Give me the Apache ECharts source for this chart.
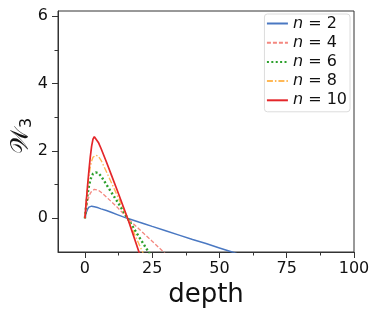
<!DOCTYPE html>
<html>
<head>
<meta charset="utf-8">
<script src="https://cdn.jsdelivr.net/npm/echarts@6/dist/echarts.min.js"></script>
<style>
  html, body { margin: 0; padding: 0; background: #fff; }
  #chart { width: 379px; height: 316px; }
</style>
</head>
<body>
<div id="chart"></div>
<script>
// ---- data ----
const depth = [0, 0.5, 1, 1.5, 2, 2.5, 3, 3.5, 4, 5, 6, 8, 10, 12, 14, 16, 18, 20, 22, 25, 30, 35, 40, 45, 50, 55, 60];
const n2  = [0, 0.17, 0.27, 0.33, 0.36, 0.36, 0.35, 0.34, 0.33, 0.31, 0.28, 0.23, 0.17, 0.11, 0.05, -0.005, -0.056, -0.11, -0.16, -0.24, -0.37, -0.50, -0.63, -0.75, -0.88, -1.01, -1.14];
const n4  = [0, 0.30, 0.50, 0.64, 0.74, 0.80, 0.84, 0.86, 0.86, 0.83, 0.77, 0.63, 0.48, 0.33, 0.16, -0.01, -0.16, -0.31, -0.46, -0.68, -1.06, -1.43, -1.80, -2.17, -2.55, -2.92, -3.30];
const n6  = [0, 0.40, 0.72, 0.96, 1.13, 1.25, 1.32, 1.35, 1.36, 1.34, 1.25, 1.00, 0.75, 0.50, 0.24, -0.02, -0.28, -0.54, -0.79, -1.17, -1.80, -2.43, -3.06, -3.70, -4.30, -4.90, -5.50];
const n8  = [0, 0.50, 0.93, 1.27, 1.52, 1.70, 1.81, 1.86, 1.87, 1.84, 1.72, 1.38, 1.03, 0.68, 0.33, -0.03, -0.39, -0.75, -1.10, -1.64, -2.54, -3.44, -4.30, -5.20, -6.10, -7.00, -7.90];
const n10 = [0, 0.50, 0.98, 1.42, 1.82, 2.14, 2.35, 2.42, 2.40, 2.25, 2.07, 1.67, 1.25, 0.83, 0.40, -0.03, -0.50, -0.98, -1.45, -2.16, -3.35, -4.50, -5.70, -6.90, -8.10, -9.30, -10.50];
const seriesNames = ['n = 2', 'n = 4', 'n = 6', 'n = 8', 'n = 10'];
const xMajorTicks = [0, 25, 50, 75, 100];
const xMinorTicks = [12.5, 37.5, 62.5, 87.5];
const yMajorTicks = [0, 2, 4, 6];
const yMinorTicks = [1, 3, 5];

// ---- styles ----
const FONT = 'DejaVu Sans';
const styles = [
  { color: '#4a78c2', width: 1.5, type: 'solid' },
  { color: '#f4877f', width: 1.3, type: [4, 2] },
  { color: '#2ca02c', width: 2.4, type: [2, 2.4] },
  { color: '#ffb856', width: 1.4, type: [6, 2, 1.5, 2] },
  { color: '#e4262a', width: 1.7, type: 'solid' }
];
const allY = [n2, n4, n6, n8, n10];

const chart = echarts.init(document.getElementById('chart'), null, { renderer: 'canvas' });

const series = allY.map((ys, i) => ({
  name: seriesNames[i],
  type: 'line',
  xAxisIndex: 0,
  yAxisIndex: 0,
  data: depth.map((d, k) => [d, ys[k]]),
  symbol: 'none',
  showSymbol: false,
  smooth: false,
  clip: true,
  lineStyle: { color: styles[i].color, width: styles[i].width, type: styles[i].type },
  itemStyle: { color: styles[i].color },
  animation: false,
  z: 2 + i
}));

const grid = {
  left: 58, top: 11, right: 25, bottom: 64,
  show: true, borderColor: '#333', borderWidth: 1,
  containLabel: false, outerBoundsMode: 'none'
};

chart.setOption({
  animation: false,
  backgroundColor: '#fff',
  grid: grid,
  legend: {
    show: true,
    right: 29,
    top: 14,
    orient: 'vertical',
    itemWidth: 21,
    itemHeight: 10,
    itemGap: 2.2,
    padding: [1, 3, 3, 1.5],
    borderColor: '#dcdcdc',
    borderWidth: 1,
    borderRadius: 3,
    backgroundColor: 'rgba(255,255,255,0.85)',
    itemStyle: { opacity: 0 },
    data: seriesNames,
    formatter: (name) => '{i|n}{t|' + name.slice(1) + '}',
    textStyle: {
      fontFamily: FONT,
      fontSize: 16,
      color: '#111',
      lineHeight: 17,
      rich: {
        i: { fontFamily: FONT, fontSize: 16, fontStyle: 'italic', color: '#111', lineHeight: 17 },
        t: { fontFamily: FONT, fontSize: 16, color: '#111', lineHeight: 17 }
      }
    }
  },
  xAxis: [
    {
      type: 'value', min: -10, max: 100, position: 'bottom',
      name: 'depth', nameLocation: 'middle', nameGap: 28,
      nameTextStyle: { fontFamily: FONT, fontSize: 26, color: '#111' },
      axisLine: { show: true, onZero: false, lineStyle: { color: '#333', width: 1 } },
      axisTick: { show: true, customValues: xMajorTicks, length: 6, lineStyle: { color: '#333', width: 1 } },
      axisLabel: { show: true, customValues: xMajorTicks, margin: 9, fontFamily: FONT, fontSize: 16, color: '#111' },
      splitLine: { show: false }
    },
    {
      type: 'value', min: -10, max: 100, position: 'bottom',
      axisLine: { show: false, onZero: false },
      axisTick: { show: true, customValues: xMinorTicks, length: 3.5, lineStyle: { color: '#333', width: 1 } },
      axisLabel: { show: false },
      splitLine: { show: false }
    }
  ],
  yAxis: [
    {
      type: 'value', min: -1, max: 6.15, position: 'left',
      name: '{w|𝒲}{s|3}', nameLocation: 'middle', nameGap: 23, nameRotate: 90,
      nameMoveOverlap: false,
      nameTextStyle: {
        fontFamily: FONT, fontSize: 24, color: '#111',
        rich: {
          w: { fontFamily: FONT, fontSize: 25, color: '#111', lineHeight: 28, verticalAlign: 'middle' },
          s: { fontFamily: FONT, fontSize: 16, color: '#111', lineHeight: 18, verticalAlign: 'bottom', padding: [0, 9, 0, 0] }
        }
      },
      axisLine: { show: true, onZero: false, lineStyle: { color: '#333', width: 1 } },
      axisTick: { show: true, customValues: yMajorTicks, length: 6, lineStyle: { color: '#333', width: 1 } },
      axisLabel: { show: true, customValues: yMajorTicks, margin: 10, fontFamily: FONT, fontSize: 16, color: '#111' },
      splitLine: { show: false }
    },
    {
      type: 'value', min: -1, max: 6.15, position: 'left',
      axisLine: { show: false, onZero: false },
      axisTick: { show: true, customValues: yMinorTicks, length: 3.5, lineStyle: { color: '#333', width: 1 } },
      axisLabel: { show: false },
      splitLine: { show: false }
    }
  ],
  series: series
});
</script>
</body>
</html>
